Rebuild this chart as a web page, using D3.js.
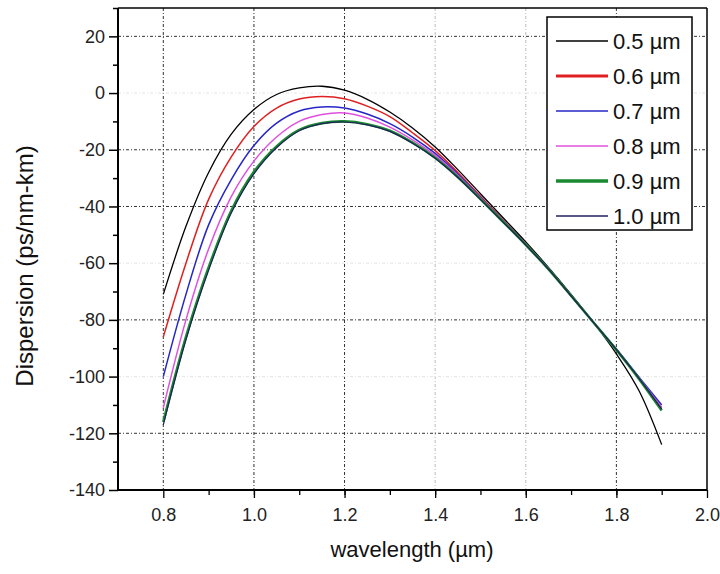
<!DOCTYPE html>
<html>
<head>
<meta charset="utf-8">
<script src="https://cdn.jsdelivr.net/npm/d3@7"></script>
<style>
  html, body { margin: 0; padding: 0; background: #fff; }
  svg { display: block; font-family: "Liberation Sans", Arial, sans-serif; }
</style>
</head>
<body>
<svg id="chart" width="720" height="574"></svg>
<script>
// ---- data ----
const wavelength = [0.80, 0.85, 0.90, 0.95, 1.00, 1.05, 1.10, 1.15, 1.20, 1.25, 1.30, 1.35,
                    1.40, 1.45, 1.50, 1.55, 1.60, 1.65, 1.70, 1.75, 1.80, 1.85, 1.90];
const d05 = [-71, -47, -28, -14.5, -5.8, -0.5, 1.8, 2.4, 1.0, -2.2, -6.7, -12.3,
             -19, -27, -35.5, -44, -52.5, -61.5, -71, -81, -92, -105, -124];
const d06 = [-86, -60, -37.5, -22.5, -11.8, -5.3, -2.1, -1.2, -2.0, -4.6, -8.3, -14,
             -20.3, -28, -36.4, -44.8, -53.2, -62, -71.5, -81, -90.5, -100.5, -111];
const d07 = [-100, -71, -46.5, -30.5, -18.5, -10.6, -6.3, -4.9, -5.3, -7.4, -10.8, -15.5,
             -21.3, -28.6, -36.8, -45, -53.3, -62, -71.5, -81, -90.3, -100.2, -110];
const d08 = [-111, -80, -55, -36.5, -24, -15.5, -10, -7.6, -7.0, -8.8, -12, -16.5,
             -22, -29, -37, -45.2, -53.4, -62, -71.5, -81, -90.5, -100.5, -111];
const d09 = [-116, -86, -61.5, -41.5, -27.8, -18.8, -13, -10.6, -10.0, -11, -13.3, -17.5,
             -22.8, -29.6, -37.4, -45.4, -53.5, -62.1, -71.5, -81, -90.6, -100.8, -112];
const d10 = [-117, -87, -62.5, -42.3, -28.5, -19.3, -13.3, -10.8, -10.2, -11.2, -13.5, -17.7,
             -23, -29.8, -37.5, -45.5, -53.6, -62.1, -71.5, -81, -90.5, -100.6, -111.5];
const seriesNames = ["0.5 µm", "0.6 µm", "0.7 µm", "0.8 µm", "0.9 µm", "1.0 µm"];
const seriesValues = [d05, d06, d07, d08, d09, d10];
const xTickLabels = [0.8, 1.0, 1.2, 1.4, 1.6, 1.8, 2.0];
const yTickLabels = [20, 0, -20, -40, -60, -80, -100, -120, -140];
const xLabel = "wavelength (µm)";
const yLabel = "Dispersion (ps/nm-km)";

// ---- styles ----
const colors = ["#000000", "#e02020", "#2626c8", "#e050e0", "#1a8a30", "#20205a"];
const plotWidths = [1.3, 1.5, 1.5, 1.5, 2.6, 1.2];
const legendWidths = [1.5, 3, 1.5, 1.5, 3.5, 1.5];

const svg = d3.select("#chart");
const L = 118, R = 707, T = 8, B = 490;
const x = d3.scaleLinear().domain([0.7, 2.0]).range([L, R]);
const y = d3.scaleLinear().domain([-140, 30]).range([B, T]);

svg.append("rect").attr("width", 720).attr("height", 574).attr("fill", "#fff");

// gridlines
const faintX = new Set([1.4, 1.6]);
const faintY = new Set([0, -60, -100]);
const grid = svg.append("g");
xTickLabels.filter(v => v < 2.0).forEach(v => {
  grid.append("line")
    .attr("x1", x(v)).attr("x2", x(v)).attr("y1", T).attr("y2", B)
    .attr("stroke", faintX.has(v) ? "#bbb" : "#333")
    .attr("stroke-width", 1)
    .attr("stroke-dasharray", "3,2,1,2");
});
yTickLabels.filter(v => v > -140).forEach(v => {
  grid.append("line")
    .attr("x1", L).attr("x2", R).attr("y1", y(v)).attr("y2", y(v))
    .attr("stroke", faintY.has(v) ? "#e4e4e4" : "#333")
    .attr("stroke-width", 1)
    .attr("stroke-dasharray", "3,2,1,2");
});

// curves
const line = d3.line()
  .x((d, i) => x(wavelength[i]))
  .y(d => y(d))
  .curve(d3.curveCatmullRom.alpha(0.5));
seriesValues.forEach((vals, k) => {
  svg.append("path")
    .datum(vals)
    .attr("d", line)
    .attr("fill", "none")
    .attr("stroke", colors[k])
    .attr("stroke-width", plotWidths[k]);
});

// frame
svg.append("line").attr("x1", L).attr("x2", R).attr("y1", T).attr("y2", T)
  .attr("stroke", "#000").attr("stroke-width", 1.5);
svg.append("line").attr("x1", R).attr("x2", R).attr("y1", T).attr("y2", B)
  .attr("stroke", "#000").attr("stroke-width", 1.5);

// axes
const tickFont = 18;
const xMinor = d3.axisBottom(x).tickValues(d3.range(8, 20).map(v => v / 10 + 0.1).filter(v => v < 2.0))
  .tickSize(5).tickFormat("");
const xMajor = d3.axisBottom(x).tickValues(xTickLabels).tickSize(8).tickPadding(10)
  .tickFormat(d => d.toFixed(1));
const gxm = svg.append("g").attr("transform", `translate(0,${B})`).call(xMinor);
const gx = svg.append("g").attr("transform", `translate(0,${B})`).call(xMajor);
[gxm, gx].forEach(g => {
  g.select(".domain").attr("stroke", "#000").attr("stroke-width", 2).attr("d", `M${L},0H${R}`);
  g.selectAll(".tick line").attr("stroke", "#000").attr("stroke-width", 1.3);
});
gx.selectAll(".tick text").attr("font-size", tickFont).attr("fill", "#222")
  .attr("font-family", "Liberation Sans, Arial, sans-serif");

const yMinor = d3.axisLeft(y).tickValues(d3.range(-130, 31, 20)).tickSize(5).tickFormat("");
const yMajor = d3.axisLeft(y).tickValues(yTickLabels).tickSize(9).tickPadding(4)
  .tickFormat(d => String(d));
const gym = svg.append("g").attr("transform", `translate(${L},0)`).call(yMinor);
const gy = svg.append("g").attr("transform", `translate(${L},0)`).call(yMajor);
[gym, gy].forEach(g => {
  g.select(".domain").attr("stroke", "#000").attr("stroke-width", 2).attr("d", `M0,${B}V${T}`);
  g.selectAll(".tick line").attr("stroke", "#000").attr("stroke-width", 1.5);
});
gy.selectAll(".tick text").attr("font-size", tickFont).attr("fill", "#222")
  .attr("font-family", "Liberation Sans, Arial, sans-serif");

// axis titles
svg.append("text")
  .attr("x", 412).attr("y", 557)
  .attr("text-anchor", "middle")
  .attr("font-size", 22).attr("fill", "#111")
  .text(xLabel);
svg.append("text")
  .attr("transform", `translate(33,266) rotate(-90)`)
  .attr("text-anchor", "middle")
  .attr("font-size", 24).attr("fill", "#111")
  .text(yLabel);

// legend
const lg = svg.append("g");
lg.append("rect")
  .attr("x", 547).attr("y", 17).attr("width", 145).attr("height", 213)
  .attr("fill", "#fff").attr("stroke", "#000").attr("stroke-width", 1.5);
seriesNames.forEach((name, k) => {
  const cy = 41 + k * 35;
  lg.append("line")
    .attr("x1", 556).attr("x2", 608).attr("y1", cy).attr("y2", cy)
    .attr("stroke", colors[k]).attr("stroke-width", legendWidths[k]);
  lg.append("text")
    .attr("x", 613).attr("y", cy + 8)
    .attr("font-size", 22).attr("fill", "#111")
    .text(name);
});
</script>
</body>
</html>
